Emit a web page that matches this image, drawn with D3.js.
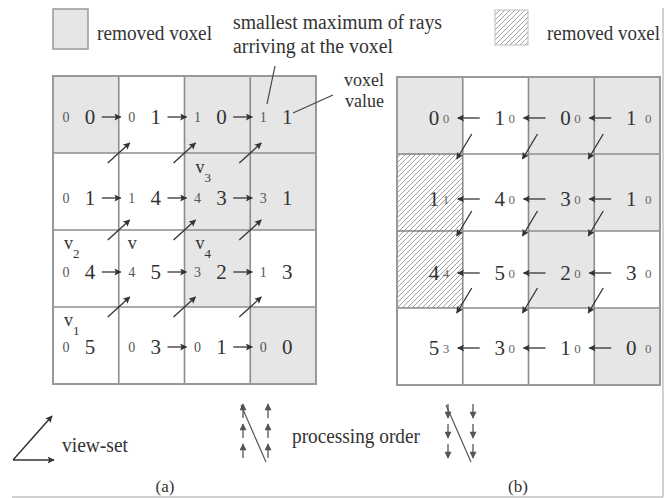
<!DOCTYPE html>
<html>
<head>
<meta charset="utf-8">
<script src="https://cdn.jsdelivr.net/npm/d3@7/dist/d3.min.js"></script>
<style>
  html, body { margin: 0; padding: 0; background: #fff; }
  svg { display: block; }
  text { font-family: "Liberation Serif", "Times New Roman", serif; fill: #333; }
</style>
</head>
<body>
<svg id="chart" width="671" height="498"></svg>
<script>
// ---------- data ----------
const rows = [0, 1, 2, 3];
const cols = [0, 1, 2, 3];
// 0 = kept (white), 1 = removed (gray), 2 = removed (hatched)
const fillA = [[1,0,1,1],[0,0,1,1],[0,0,1,0],[0,0,0,1]];
const fillB = [[1,0,1,1],[2,0,1,1],[2,0,1,0],[0,0,0,1]];
// voxel values
const valueA = [[0,1,0,1],[1,4,3,1],[4,5,2,3],[5,3,1,0]];
const valueB = [[0,1,0,1],[1,4,3,1],[4,5,2,3],[5,3,1,0]];
// smallest maximum of rays arriving at the voxel
const rayA = [[0,0,1,1],[0,1,4,3],[0,4,3,1],[0,0,0,0]];
const rayB = [[0,0,0,0],[1,0,0,0],[4,0,0,0],[3,0,0,0]];
// horizontal arrows: [row, boundary column]
const hArrowsA = [[0,1],[0,2],[0,3],[1,1],[1,2],[1,3],[2,1],[2,2],[2,3],[3,2],[3,3]];
const hArrowsB = [[0,1],[0,2],[0,3],[1,1],[1,2],[1,3],[2,1],[2,2],[2,3],[3,1],[3,2],[3,3]];
// diagonal arrows: [row line, column line]
const dArrows = [[1,1],[1,2],[1,3],[2,1],[2,2],[2,3],[3,1],[3,2],[3,3]];
// vertex labels in (a): [name, subscript, column, row]
const vLabels = [["v","3",2,1],["v","2",0,2],["v","",1,2],["v","4",2,2],["v","1",0,3]];

// ---------- layout ----------
const svg = d3.select("#chart");
const xA = d3.scaleLinear().domain([0,4]).range([53,316]);
const yA = d3.scaleLinear().domain([0,4]).range([76,384]);
const xB = d3.scaleLinear().domain([0,4]).range([397,660]);
const yB = d3.scaleLinear().domain([0,4]).range([77,385]);
const rowMidOffset = [2.5, 6.5, 3.5, 1.5];
const GRAY = "#e6e6e6", LINE = "#8c8c8c", INK = "#333";

const defs = svg.append("defs");
defs.append("marker").attr("id","ah").attr("viewBox","0 0 10 10")
  .attr("refX",9).attr("refY",5).attr("markerWidth",8).attr("markerHeight",7)
  .attr("markerUnits","userSpaceOnUse").attr("orient","auto")
  .append("path").attr("d","M0,0 L10,5 L0,10 L2,5 Z").attr("fill",INK);
defs.append("marker").attr("id","ahs").attr("viewBox","0 0 10 10")
  .attr("refX",9).attr("refY",5).attr("markerWidth",8).attr("markerHeight",7)
  .attr("markerUnits","userSpaceOnUse").attr("orient","auto")
  .append("path").attr("d","M0,0 L10,5 L0,10 Z").attr("fill","#555");
const pat = defs.append("pattern").attr("id","hatch").attr("patternUnits","userSpaceOnUse")
  .attr("width",5).attr("height",5);
pat.append("rect").attr("width",5).attr("height",5).attr("fill","#fff");
pat.append("path").attr("d","M0,5 L5,0 M-1,1 L1,-1 M4,6 L6,4")
  .attr("stroke","#a0a0a0").attr("stroke-width",1);

// frame
svg.append("line").attr("x1",663).attr("y1",8).attr("x2",663).attr("y2",497)
  .attr("stroke","#d0d0d0").attr("stroke-width",2);
svg.append("line").attr("x1",12).attr("y1",497).attr("x2",663).attr("y2",497)
  .attr("stroke","#d0d0d0").attr("stroke-width",2);

function cells(g, x, y, fill) {
  const data = [];
  rows.forEach(r => cols.forEach(c => data.push({r, c, f: fill[r][c]})));
  g.selectAll("rect.cell").data(data).join("rect").attr("class","cell")
    .attr("x", d => x(d.c)).attr("y", d => y(d.r))
    .attr("width", d => x(d.c+1) - x(d.c)).attr("height", d => y(d.r+1) - y(d.r))
    .attr("fill", d => d.f === 1 ? GRAY : d.f === 2 ? "url(#hatch)" : "#fff")
    .attr("stroke", d => d.f === 2 ? "#8c8c8c" : "none")
    .attr("stroke-dasharray", d => d.f === 2 ? "3,2" : null)
    .attr("stroke-width", 1);
  [1,2,3].forEach(i => {
    g.append("line").attr("x1",x(i)).attr("x2",x(i)).attr("y1",y(0)).attr("y2",y(4))
      .attr("stroke",LINE).attr("stroke-width",1.6);
    g.append("line").attr("x1",x(0)).attr("x2",x(4)).attr("y1",y(i)).attr("y2",y(i))
      .attr("stroke",LINE).attr("stroke-width",1.6);
  });
  g.append("rect").attr("x",x(0)).attr("y",y(0)).attr("width",x(4)-x(0)).attr("height",y(4)-y(0))
    .attr("fill","none").attr("stroke","#999").attr("stroke-width",2);
}

// ---------- panel (a) ----------
const gA = svg.append("g");
cells(gA, xA, yA, fillA);
rows.forEach(r => cols.forEach(c => {
  const mid = (yA(r) + yA(r+1)) / 2 + rowMidOffset[r];
  gA.append("text").attr("x", xA(c) + 13).attr("y", mid + 5).attr("text-anchor","middle")
    .attr("font-size", 14).style("fill","#555").text(rayA[r][c]);
  gA.append("text").attr("x", xA(c) + 37).attr("y", mid + 7).attr("text-anchor","middle")
    .attr("font-size", 21).text(valueA[r][c]);
}));
hArrowsA.forEach(([r, c]) => {
  const mid = (yA(r) + yA(r+1)) / 2 + rowMidOffset[r];
  gA.append("line").attr("x1", xA(c) - 17).attr("x2", xA(c) + 2).attr("y1", mid).attr("y2", mid)
    .attr("stroke", INK).attr("stroke-width", 1.3).attr("marker-end","url(#ah)");
});
dArrows.forEach(([r, c]) => {
  const ix = xA(c), iy = yA(r);
  gA.append("line").attr("x1", ix - 11).attr("y1", iy + 10).attr("x2", ix + 11).attr("y2", iy - 10)
    .attr("stroke", INK).attr("stroke-width", 1.3).attr("marker-end","url(#ah)");
});
vLabels.forEach(([n, s, c, r]) => {
  const bx = xA(c) + (c === 1 ? 9 : 11);
  const by = r === 1 ? yA(r) + 20 : yA(r) + 19;
  gA.append("text").attr("x", bx).attr("y", by).attr("font-size", 18).text(n);
  if (s) gA.append("text").attr("x", bx + 9).attr("y", by + 9).attr("font-size", 13).text(s);
});

// ---------- panel (b) ----------
const gB = svg.append("g");
cells(gB, xB, yB, fillB);
rows.forEach(r => cols.forEach(c => {
  const mid = (yB(r) + yB(r+1)) / 2 + rowMidOffset[r];
  gB.append("text").attr("x", xB(c) + 37).attr("y", mid + 7).attr("text-anchor","middle")
    .attr("font-size", 21).text(valueB[r][c]);
  gB.append("text").attr("x", xB(c) + (c === 3 ? 54 : 49)).attr("y", mid + 4.5).attr("text-anchor","middle")
    .attr("font-size", 13).style("fill","#666").text(rayB[r][c]);
}));
hArrowsB.forEach(([r, c]) => {
  const mid = (yB(r) + yB(r+1)) / 2 + rowMidOffset[r];
  gB.append("line").attr("x1", xB(c) + 17).attr("x2", xB(c) - 5).attr("y1", mid).attr("y2", mid)
    .attr("stroke", INK).attr("stroke-width", 1.3).attr("marker-end","url(#ah)");
});
dArrows.forEach(([r, c]) => {
  const ix = xB(c), iy = yB(r);
  gB.append("line").attr("x1", ix + 9).attr("y1", iy - 20).attr("x2", ix - 6).attr("y2", iy + 5)
    .attr("stroke", INK).attr("stroke-width", 1.3).attr("marker-end","url(#ah)");
});

// ---------- legends & annotations ----------
svg.append("rect").attr("x",53).attr("y",9).attr("width",35).attr("height",40)
  .attr("fill",GRAY).attr("stroke","#999").attr("stroke-width",1.5);
svg.append("text").attr("x",97).attr("y",40).attr("font-size",21)
  .attr("textLength",115).attr("lengthAdjust","spacingAndGlyphs").text("removed voxel");
svg.append("rect").attr("x",495).attr("y",10).attr("width",33).attr("height",35)
  .attr("fill","url(#hatch)").attr("stroke","#bbb").attr("stroke-width",1);
svg.append("text").attr("x",547).attr("y",40).attr("font-size",21)
  .attr("textLength",113).attr("lengthAdjust","spacingAndGlyphs").text("removed voxel");

svg.append("text").attr("x",233).attr("y",29).attr("font-size",20)
  .attr("textLength",209).attr("lengthAdjust","spacingAndGlyphs").text("smallest maximum of rays");
svg.append("text").attr("x",233).attr("y",53).attr("font-size",20)
  .attr("textLength",160).attr("lengthAdjust","spacingAndGlyphs").text("arriving at the voxel");
svg.append("line").attr("x1",275).attr("y1",66).attr("x2",267).attr("y2",104)
  .attr("stroke","#444").attr("stroke-width",1.2);
svg.append("text").attr("x",384).attr("y",86).attr("font-size",18).attr("text-anchor","end").text("voxel");
svg.append("text").attr("x",384).attr("y",107).attr("font-size",18).attr("text-anchor","end").text("value");
svg.append("line").attr("x1",333).attr("y1",95).attr("x2",293).attr("y2",113)
  .attr("stroke","#444").attr("stroke-width",1.2);

// view-set icon
svg.append("line").attr("x1",13).attr("y1",460).attr("x2",52).attr("y2",416)
  .attr("stroke",INK).attr("stroke-width",1.5).attr("marker-end","url(#ah)");
svg.append("line").attr("x1",13).attr("y1",460).attr("x2",54).attr("y2",460)
  .attr("stroke",INK).attr("stroke-width",1.5).attr("marker-end","url(#ah)");
svg.append("text").attr("x",62).attr("y",452).attr("font-size",20)
  .attr("textLength",66).attr("lengthAdjust","spacingAndGlyphs").text("view-set");

// processing order icons
function orderIcon(x0, x1, up) {
  const g = svg.append("g");
  [x0, x1].forEach(x => {
    [[404,418],[424,438],[444,458]].forEach(([a, b]) => {
      g.append("line").attr("x1", x).attr("x2", x)
        .attr("y1", up ? b : a).attr("y2", up ? a : b)
        .attr("stroke","#555").attr("stroke-width",1.3).attr("marker-end","url(#ahs)");
    });
  });
  g.append("line").attr("x1", x0 - 2).attr("y1", 405).attr("x2", x1 - 2).attr("y2", 462)
    .attr("stroke","#555").attr("stroke-width",1.2);
}
orderIcon(243, 268, true);
orderIcon(448, 473, false);
svg.append("text").attr("x",292).attr("y",443).attr("font-size",20)
  .attr("textLength",128).attr("lengthAdjust","spacingAndGlyphs").text("processing order");

svg.append("text").attr("x",165).attr("y",492).attr("font-size",17).attr("text-anchor","middle").text("(a)");
svg.append("text").attr("x",518).attr("y",492).attr("font-size",17).attr("text-anchor","middle").text("(b)");
</script>
</body>
</html>
